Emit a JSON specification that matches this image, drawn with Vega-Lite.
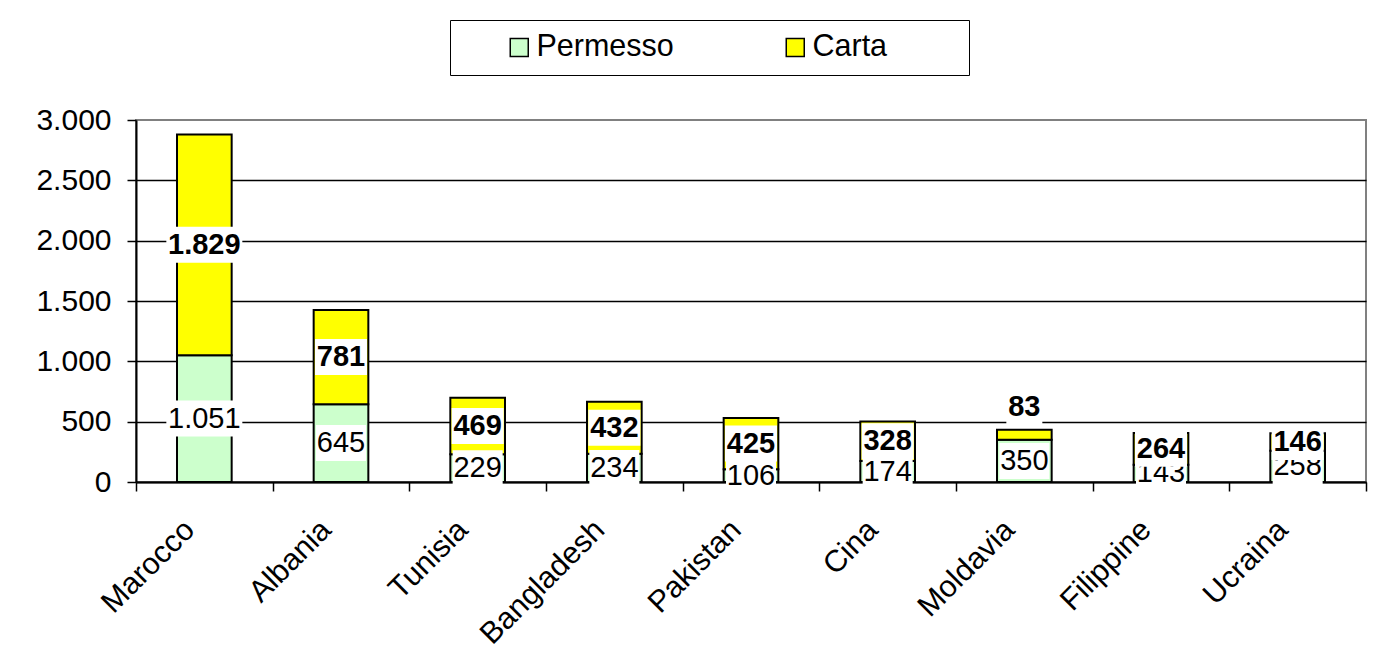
{
  "$schema": "https://vega.github.io/schema/vega-lite/v6.json",
  "autosize": {"type": "none"},
  "width": 1230,
  "height": 362,
  "padding": {"left": 136, "top": 120, "right": 9, "bottom": 184},
  "background": "white",
  "data": {
    "values": [
      {"paese": "Marocco", "tipo": "Permesso", "valore": 1051},
      {"paese": "Marocco", "tipo": "Carta", "valore": 1829},
      {"paese": "Albania", "tipo": "Permesso", "valore": 645},
      {"paese": "Albania", "tipo": "Carta", "valore": 781},
      {"paese": "Tunisia", "tipo": "Permesso", "valore": 229},
      {"paese": "Tunisia", "tipo": "Carta", "valore": 469},
      {"paese": "Bangladesh", "tipo": "Permesso", "valore": 234},
      {"paese": "Bangladesh", "tipo": "Carta", "valore": 432},
      {"paese": "Pakistan", "tipo": "Permesso", "valore": 106},
      {"paese": "Pakistan", "tipo": "Carta", "valore": 425},
      {"paese": "Cina", "tipo": "Permesso", "valore": 174},
      {"paese": "Cina", "tipo": "Carta", "valore": 328},
      {"paese": "Moldavia", "tipo": "Permesso", "valore": 350},
      {"paese": "Moldavia", "tipo": "Carta", "valore": 83},
      {"paese": "Filippine", "tipo": "Permesso", "valore": 143},
      {"paese": "Filippine", "tipo": "Carta", "valore": 264},
      {"paese": "Ucraina", "tipo": "Permesso", "valore": 258},
      {"paese": "Ucraina", "tipo": "Carta", "valore": 146}
    ]
  },
  "transform": [
    {"stack": "valore", "groupby": ["paese"], "sort": [{"field": "tipo", "order": "descending"}], "as": ["v0", "v1"]},
    {"calculate": "replace(format(datum.valore, ','), ',', '.')", "as": "lab"},
    {"calculate": "datum.tipo == 'Carta' && datum.valore < 100 ? datum.v1 + 190 : (datum.v0 + datum.v1) / 2", "as": "ly"}
  ],
  "layer": [
    {
      "mark": {"type": "bar", "stroke": "black", "strokeWidth": 2, "width": {"band": 0.4}},
      "encoding": {
        "x": {
          "field": "paese", "type": "nominal", "sort": null,
          "scale": {"paddingInner": 0, "paddingOuter": 0},
          "axis": {
            "title": null, "tickBand": "extent", "labelAngle": -45, "labelAlign": "right", "labelBaseline": "middle",
            "labelFontSize": 30.5, "labelColor": "black", "labelPadding": 34, "labelOffset": -15,
            "tickSize": 9, "tickColor": "black", "tickWidth": 1.5, "domainColor": "black", "domainWidth": 2, "grid": false
          }
        },
        "y": {
          "field": "v1", "type": "quantitative",
          "scale": {"domain": [0, 3000], "nice": false},
          "axis": {
            "title": null, "values": [0, 500, 1000, 1500, 2000, 2500, 3000],
            "labelExpr": "replace(format(datum.value, ','), ',', '.')",
            "labelFontSize": 30, "labelColor": "black", "labelPadding": 16,
            "tickSize": 9, "tickColor": "black", "tickWidth": 1.5, "domainColor": "black", "domainWidth": 2,
            "grid": true, "gridColor": "black", "gridWidth": 1.5,
            "gridOpacity": {"condition": {"test": "datum.value == 3000", "value": 0}, "value": 1}
          }
        },
        "y2": {"field": "v0"},
        "color": {
          "field": "tipo", "type": "nominal",
          "scale": {"domain": ["Permesso", "Carta"], "range": ["#CCFFCC", "#FFFF00"]},
          "legend": {
            "orient": "none", "legendX": 314, "legendY": -100, "direction": "horizontal",
            "title": " ", "titleOrient": "left", "titleFontSize": 1, "titlePadding": 42,
            "padding": 12, "strokeColor": "black", "fillColor": "white",
            "labelFontSize": 30.5, "labelColor": "black", "labelOffset": 2, "labelLimit": 400,
            "labelExpr": "datum.label == 'Carta' ? 'Carta\u2800\u2800\u2800' : datum.label",
            "columnPadding": 106,
            "symbolType": "square", "symbolSize": 324, "symbolStrokeColor": "black", "symbolStrokeWidth": 1.5, "symbolOpacity": 1
          }
        }
      }
    },
    {
      "transform": [{"filter": "datum.tipo == 'Permesso'"}],
      "mark": {"type": "point", "filled": true, "fill": "white", "opacity": 1, "strokeWidth": 0},
      "encoding": {
        "x": {"field": "paese", "type": "nominal", "sort": null, "axis": {"title": null}},
        "y": {"field": "ly", "type": "quantitative", "scale": {"domain": [0, 3000], "nice": false}, "axis": {"title": null}},
        "shape": {"condition": {"test": "length(datum.lab) > 3", "value": "M-1,-0.474H1V0.474H-1Z"}, "value": "M-1,-0.72H1V0.72H-1Z"},
        "size": {"condition": {"test": "length(datum.lab) > 3", "value": 5776}, "value": 2500}
      }
    },
    {
      "transform": [{"filter": "datum.tipo == 'Permesso'"}],
      "mark": {"type": "text", "fontSize": 29, "color": "black", "baseline": "middle", "align": "center"},
      "encoding": {
        "x": {"field": "paese", "type": "nominal", "sort": null, "axis": {"title": null}},
        "y": {"field": "ly", "type": "quantitative", "scale": {"domain": [0, 3000], "nice": false}, "axis": {"title": null}},
        "text": {"field": "lab"}
      }
    },
    {
      "transform": [{"filter": "datum.tipo == 'Carta'"}],
      "mark": {"type": "point", "filled": true, "fill": "white", "opacity": 1, "strokeWidth": 0},
      "encoding": {
        "x": {"field": "paese", "type": "nominal", "sort": null, "axis": {"title": null}},
        "y": {"field": "ly", "type": "quantitative", "scale": {"domain": [0, 3000], "nice": false}, "axis": {"title": null}},
        "shape": {"condition": [{"test": "length(datum.lab) > 3", "value": "M-1,-0.474H1V0.474H-1Z"}, {"test": "length(datum.lab) < 3", "value": "square"}], "value": "M-1,-0.692H1V0.692H-1Z"},
        "size": {"condition": [{"test": "length(datum.lab) > 3", "value": 5776}, {"test": "length(datum.lab) < 3", "value": 1296}], "value": 2704}
      }
    },
    {
      "transform": [{"filter": "datum.tipo == 'Carta'"}],
      "mark": {"type": "text", "fontSize": 29, "fontWeight": "bold", "color": "black", "baseline": "middle", "align": "center"},
      "encoding": {
        "x": {"field": "paese", "type": "nominal", "sort": null, "axis": {"title": null}},
        "y": {"field": "ly", "type": "quantitative", "scale": {"domain": [0, 3000], "nice": false}, "axis": {"title": null}},
        "text": {"field": "lab"}
      }
    }
  ],
  "config": {
    "font": "Liberation Sans",
    "view": {"stroke": "#808080", "strokeWidth": 2}
  }
}
